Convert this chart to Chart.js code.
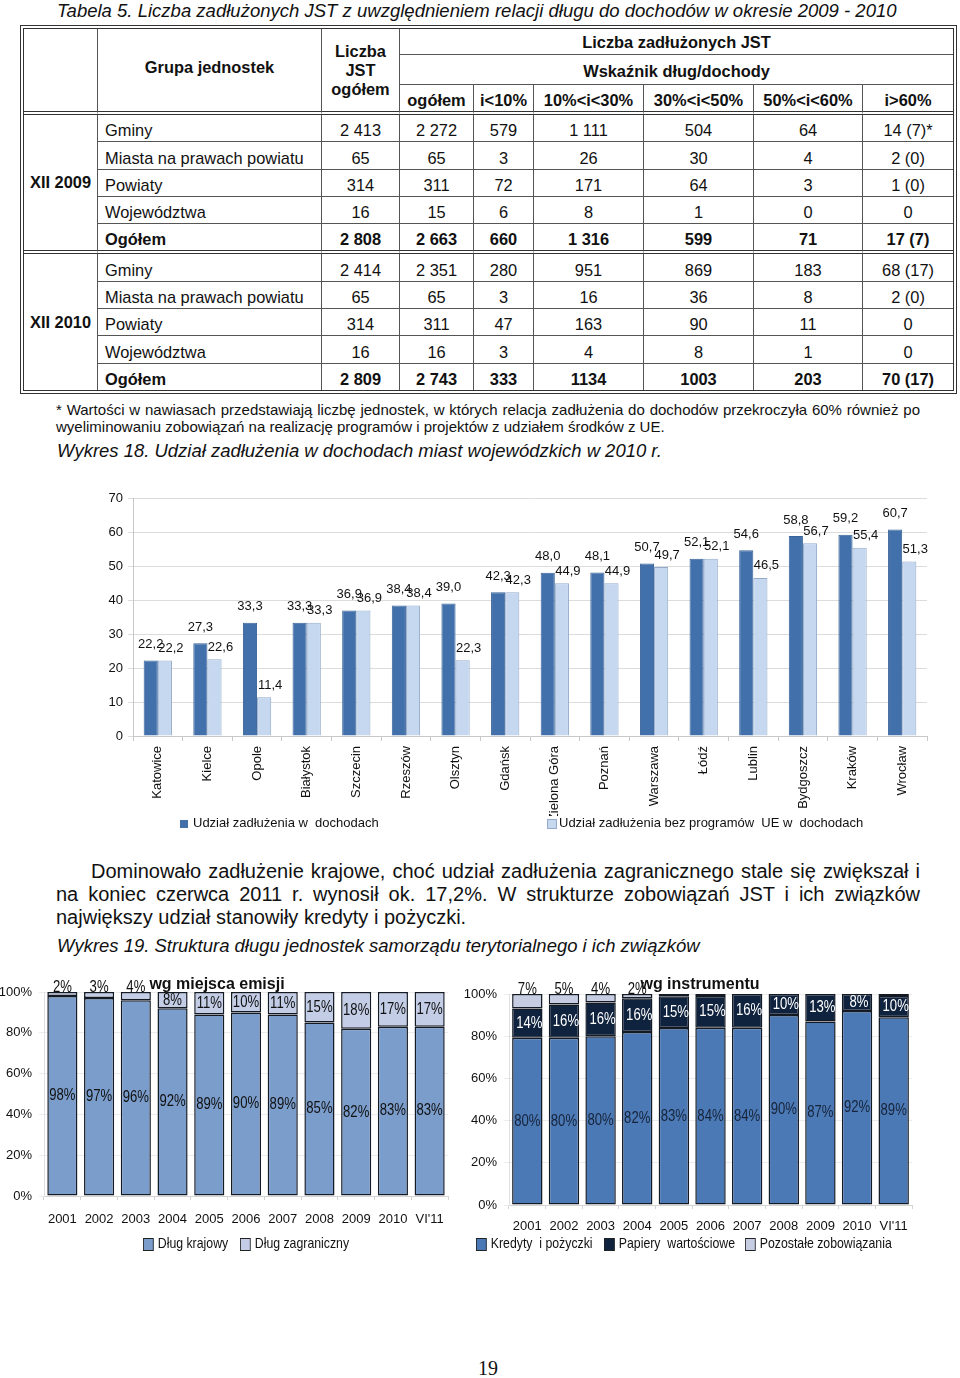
<!DOCTYPE html>
<html lang="pl">
<head>
<meta charset="utf-8">
<script src="https://cdn.jsdelivr.net/npm/chart.js@4.4.1/dist/chart.umd.min.js"></script>
<style>
html, body { margin: 0; padding: 0; background: #fff; }
#page { position: relative; width: 960px; height: 1378px; overflow: hidden; font-family: 'Liberation Sans', Arial, sans-serif; color: #111; }
/* no Arial Narrow here, so squeeze Liberation Sans a bit */
.nw { transform: scaleX(0.972); transform-origin: 0 0; }
.nx { transform: scaleX(0.82); transform-origin: 0 0; }
.abs { position: absolute; white-space: nowrap; }
.fill { text-align: justify; text-align-last: justify; }
.cap { font-style: italic; font-size: 19px; line-height: 22px; }
.foot { font-size: 15px; line-height: 17px; }
.para { font-size: 20px; line-height: 23px; }
#tab { position: absolute; left: 20px; top: 25px; width: 937px; table-layout: fixed; border-collapse: separate; border-spacing: 0; border: 4px double #333; font-size: 16.4px; }
#tab th, #tab td { border-right: 1px solid #555; border-bottom: 1px solid #555; padding: 0; text-align: center; white-space: nowrap; overflow: hidden; }
#tab th { font-weight: bold; }
#tab .last { border-right: none; }
#tab .dbl { border-bottom: 4px double #333; }
#tab .nob { border-bottom: none; }
#tab tbody td { height: 25.3px; vertical-align: bottom; padding-bottom: 1px; }
#tab td.grp { text-align: left; padding-left: 7px; }
#tab td.year { font-weight: bold; vertical-align: middle; padding: 0; }
#tab tr.sum td { font-weight: bold; }
.leg { position: absolute; white-space: nowrap; }
.leg i { display: inline-block; vertical-align: middle; margin-right: 5px; }
canvas { position: absolute; }
</style>
</head>
<body>
<div id="page">
  <div class="abs cap" style="left:0;top:0;width:978px;text-align:center;transform:scaleX(0.975);transform-origin:0 0;">Tabela 5. Liczba zadłużonych JST z uwzględnieniem relacji długu do dochodów w okresie 2009 - 2010</div>

  <table id="tab">
    <colgroup>
      <col style="width:74px"><col style="width:224px"><col style="width:78px"><col style="width:74px"><col style="width:60px">
      <col style="width:110px"><col style="width:110px"><col style="width:109px"><col style="width:90px">
    </colgroup>
    <thead>
      <tr style="height:26px">
        <th rowspan="3" class="dbl"></th>
        <th rowspan="3" class="dbl" style="padding-bottom:6px">Grupa jednostek</th>
        <th rowspan="3" class="dbl" style="line-height:19px">Liczba<br>JST<br>ogółem</th>
        <th colspan="6" class="last" style="padding-top:2px">Liczba zadłużonych JST</th>
      </tr>
      <tr style="height:30px"><th colspan="6" class="last" style="padding-top:4px">Wskaźnik dług/dochody</th></tr>
      <tr style="height:30px" id="hdr3"></tr>
    </thead>
    <tbody id="b2009"></tbody>
    <tbody id="b2010"></tbody>
  </table>

  <div class="abs foot fill" style="left:56px;top:401px;width:864px;">* Wartości w nawiasach przedstawiają liczbę jednostek, w których relacja zadłużenia do dochodów przekroczyła 60% również po</div>
  <div class="abs foot" style="left:56px;top:418px;">wyeliminowaniu zobowiązań na realizację programów i projektów z udziałem środków z UE.</div>
  <div class="abs cap nw" style="left:57px;top:440px;">Wykres 18. Udział zadłużenia w dochodach miast wojewódzkich w 2010 r.</div>

  <canvas id="c18" width="860" height="360" style="left:90px;top:480px;"></canvas>
  <div class="leg" style="left:180px;top:815px;font-size:13px;line-height:16px;"><i style="width:8px;height:8px;background:#4170ab;"></i>Udział zadłużenia w&nbsp; dochodach</div>
  <div class="leg" style="left:547px;top:815px;font-size:13px;line-height:16px;"><i style="width:8px;height:8px;background:#c6d8f0;border:1px solid #94aacb;margin-right:2px;"></i>Udział zadłużenia bez programów&nbsp; UE w&nbsp; dochodach</div>

  <div class="abs para fill" style="left:91px;top:860px;width:829px;">Dominowało zadłużenie krajowe, choć udział zadłużenia zagranicznego stale się zwiększał i</div>
  <div class="abs para fill" style="left:56px;top:883px;width:864px;">na koniec czerwca 2011 r. wynosił ok. 17,2%. W strukturze zobowiązań JST i ich związków</div>
  <div class="abs para" style="left:56px;top:906px;">największy udział stanowiły kredyty i pożyczki.</div>
  <div class="abs cap nw" style="left:57px;top:935px;">Wykres 19. Struktura długu jednostek samorządu terytorialnego i ich związków</div>

  <canvas id="c19a" width="460" height="262" style="left:0px;top:975px;"></canvas>
  <canvas id="c19b" width="500" height="265" style="left:460px;top:975px;"></canvas>
  <div class="abs" style="left:137px;top:975px;width:160px;text-align:center;font-weight:bold;font-size:16px;line-height:18px;">wg miejsca emisji</div>
  <div class="abs" style="left:620px;top:975px;width:160px;text-align:center;font-weight:bold;font-size:16px;line-height:18px;">wg instrumentu</div>

  <div class="leg nx" style="left:143px;top:1234px;font-size:15px;line-height:18px;"><i style="width:11px;height:11px;background:#7b9dcc;border:1px solid #222;"></i>Dług krajowy</div>
  <div class="leg nx" style="left:240px;top:1234px;font-size:15px;line-height:18px;"><i style="width:11px;height:11px;background:#c3cde6;border:1px solid #222;"></i>Dług zagraniczny</div>
  <div class="leg nx" style="left:476px;top:1234px;font-size:15px;line-height:18px;"><i style="width:11px;height:11px;background:#4b79b6;border:1px solid #222;"></i>Kredyty&nbsp; i pożyczki</div>
  <div class="leg nx" style="left:604px;top:1234px;font-size:15px;line-height:18px;"><i style="width:11px;height:11px;background:#10233e;border:1px solid #222;"></i>Papiery&nbsp; wartościowe</div>
  <div class="leg nx" style="left:745px;top:1234px;font-size:15px;line-height:18px;"><i style="width:11px;height:11px;background:#c6cde3;border:1px solid #222;"></i>Pozostałe zobowiązania</div>

  <div class="abs" style="left:468px;top:1356px;width:40px;text-align:center;font-family:'Liberation Serif','Times New Roman',serif;font-size:20px;line-height:24px;">19</div>
</div>

<script>
// ---- Tabela 5 ----
const tableCols = ['ogółem', 'i<10%', '10%<i<30%', '30%<i<50%', '50%<i<60%', 'i>60%'];
const unitGroups = ['Gminy', 'Miasta na prawach powiatu', 'Powiaty', 'Województwa', 'Ogółem'];
const total2009 = ['2 413', '65', '314', '16', '2 808'];
const debt2009 = [
    ['2 272', '579', '1 111', '504', '64', '14 (7)*'],
    ['65', '3', '26', '30', '4', '2 (0)'],
    ['311', '72', '171', '64', '3', '1 (0)'],
    ['15', '6', '8', '1', '0', '0'],
    ['2 663', '660', '1 316', '599', '71', '17 (7)']
];
const total2010 = ['2 414', '65', '314', '16', '2 809'];
const debt2010 = [
    ['2 351', '280', '951', '869', '183', '68 (17)'],
    ['65', '3', '16', '36', '8', '2 (0)'],
    ['311', '47', '163', '90', '11', '0'],
    ['16', '3', '4', '8', '1', '0'],
    ['2 743', '333', '1134', '1003', '203', '70 (17)']
];

// ---- Wykres 18 ----
const cities18 = ['Katowice', 'Kielce', 'Opole', 'Białystok', 'Szczecin', 'Rzeszów', 'Olsztyn', 'Gdańsk',
    'Zielona Góra', 'Poznań', 'Warszawa', 'Łódź', 'Lublin', 'Bydgoszcz', 'Kraków', 'Wrocław'];
const share18 = [22.2, 27.3, 33.3, 33.3, 36.9, 38.4, 39.0, 42.3, 48.0, 48.1, 50.7, 52.1, 54.6, 58.8, 59.2, 60.7];
const shareNoEU18 = [22.2, 22.6, 11.4, 33.3, 36.9, 38.4, 22.3, 42.3, 44.9, 44.9, 49.7, 52.1, 46.5, 56.7, 55.4, 51.3];
const yMax18 = 70, yStep18 = 10;

// ---- Wykres 19 ----
const years19 = ['2001', '2002', '2003', '2004', '2005', '2006', '2007', '2008', '2009', '2010', "VI'11"];
const domestic19 = [98, 97, 96, 92, 89, 90, 89, 85, 82, 83, 83];
const foreign19 = [2, 3, 4, 8, 11, 10, 11, 15, 18, 17, 17];
const loans19 = [80, 80, 80, 82, 83, 84, 84, 90, 87, 92, 89];
const securities19 = [14, 16, 16, 16, 15, 15, 16, 10, 13, 8, 10];
const otherLiab19 = [7, 5, 4, 2, 1, 1, 0, 0, 0, 0, 1];

// build table body
const hdr3 = document.getElementById('hdr3');
tableCols.forEach((c, i) => {
    const th = document.createElement('th');
    th.textContent = c;
    th.className = 'dbl' + (i === tableCols.length - 1 ? ' last' : '');
    th.style.verticalAlign = 'bottom';
    th.style.paddingBottom = '1px';
    hdr3.appendChild(th);
});

function fillBody(id, yearLabel, totals, rows, lastBlock) {
    const body = document.getElementById(id);
    unitGroups.forEach((g, r) => {
        const tr = document.createElement('tr');
        if (r === unitGroups.length - 1) tr.className = 'sum';
        const endCls = r === unitGroups.length - 1 ? (lastBlock ? ' nob' : ' dbl') : '';
        if (r === 0) {
            const y = document.createElement('td');
            y.rowSpan = unitGroups.length;
            y.className = 'year' + (lastBlock ? ' nob' : ' dbl');
            y.textContent = yearLabel;
            tr.appendChild(y);
        }
        const cells = [g, totals[r]].concat(rows[r]);
        cells.forEach((v, c) => {
            const td = document.createElement('td');
            td.textContent = v;
            let cls = endCls;
            if (c === 0) cls += ' grp';
            if (c === cells.length - 1) cls += ' last';
            td.className = cls.trim();
            tr.appendChild(td);
        });
        body.appendChild(tr);
    });
}
fillBody('b2009', 'XII 2009', total2009, debt2009, false);
fillBody('b2010', 'XII 2010', total2010, debt2010, true);

const SANS = "'Liberation Sans', Arial, sans-serif";
Chart.defaults.font.family = SANS;
Chart.defaults.color = '#111';

// labels over bars (chart 18)
const topLabels = {
    id: 'topLabels',
    afterDatasetsDraw(chart) {
        const ctx = chart.ctx;
        const dx = [0, 6], dy = [16, 12];
        ctx.save();
        ctx.font = '13px ' + SANS;
        ctx.fillStyle = '#111';
        ctx.textAlign = 'center';
        ctx.textBaseline = 'middle';
        chart.data.datasets.forEach((ds, di) => {
            chart.getDatasetMeta(di).data.forEach((bar, i) => {
                const txt = ds.data[i].toFixed(1).replace('.', ',');
                ctx.fillText(txt, bar.x + dx[di], bar.y - dy[di]);
            });
        });
        ctx.restore();
    }
};

// labels inside stacked segments (chart 19), squeezed like a narrow font
const segLabels = {
    id: 'segLabels',
    afterDatasetsDraw(chart) {
        const ctx = chart.ctx;
        chart.data.datasets.forEach((ds, di) => {
            chart.getDatasetMeta(di).data.forEach((bar, i) => {
                const v = ds.raw[i];
                if (v < 2) return;
                const h = bar.base - bar.y;
                const y = h < 16 ? bar.y - 4 : bar.y + h / 2;
                ctx.save();
                ctx.translate(bar.x + (ds.labelDx || 0), y);
                ctx.scale(0.82, 1);
                ctx.font = '16px ' + SANS;
                ctx.textAlign = 'center';
                ctx.textBaseline = 'middle';
                ctx.fillStyle = h < 16 ? '#111' : ds.labelColor;
                ctx.fillText(v + '%', 0, 0);
                ctx.restore();
            });
        });
    }
};

new Chart(document.getElementById('c18'), {
    type: 'bar',
    data: {
        labels: cities18,
        datasets: [
            { label: 'Udział zadłużenia w dochodach', data: share18, backgroundColor: '#4170ab', borderColor: '#3a6399', borderWidth: 1, categoryPercentage: 0.57, barPercentage: 1 },
            { label: 'Udział zadłużenia bez programów UE w dochodach', data: shareNoEU18, backgroundColor: '#c6d8f0', borderColor: '#94aacb', borderWidth: 1, categoryPercentage: 0.57, barPercentage: 1 }
        ]
    },
    options: {
        responsive: false,
        animation: false,
        layout: { padding: { left: 0, right: 23, top: 18, bottom: 24 } },
        plugins: { legend: { display: false }, tooltip: { enabled: false } },
        scales: {
            x: {
                grid: { drawOnChartArea: false, tickLength: 5, color: '#c8c8c8', offset: true },
                border: { color: '#c8c8c8' },
                ticks: { minRotation: 90, maxRotation: 90, autoSkip: false, font: { size: 13 }, padding: 5 },
                afterFit(s) { s.height = 80; }
            },
            y: {
                min: 0, max: yMax18,
                ticks: { stepSize: yStep18, font: { size: 13 }, padding: 5 },
                grid: { color: '#dcdcdc', tickLength: 5 },
                border: { color: '#c8c8c8' },
                afterFit(s) { s.width = 43; }
            }
        }
    },
    plugins: [topLabels]
});

function pctStack(series) {
    // normalise rounded shares so every column fills 100%
    return series.map(s => s.map((v, i) => v / series.reduce((a, b) => a + b[i], 0) * 100));
}

function stackChart(id, sets, pad, yWidth, xHeight, barPct, xPad) {
    const norm = pctStack(sets.map(s => s.data));
    return new Chart(document.getElementById(id), {
        type: 'bar',
        data: {
            labels: years19,
            datasets: sets.map((s, k) => ({
                label: s.label, data: norm[k], raw: s.data, labelColor: s.labelColor, labelDx: s.labelDx,
                backgroundColor: s.color, borderColor: '#141a24', borderWidth: 1.5, borderSkipped: false,
                categoryPercentage: 1, barPercentage: barPct
            }))
        },
        options: {
            responsive: false,
            animation: false,
            layout: { padding: pad },
            plugins: { legend: { display: false }, tooltip: { enabled: false } },
            scales: {
                x: {
                    stacked: true,
                    grid: { drawOnChartArea: false, tickLength: 4, color: '#d4d4d4', offset: true },
                    border: { color: '#d4d4d4' },
                    ticks: { font: { size: 13 }, padding: xPad, maxRotation: 0, autoSkip: false },
                    afterFit(s) { s.height = xHeight; }
                },
                y: {
                    stacked: true, min: 0, max: 100,
                    ticks: { stepSize: 20, font: { size: 13 }, padding: 7, callback: v => v + '%' },
                    grid: { color: '#ececec', tickLength: 5 },
                    border: { color: '#e0e0e0' },
                    afterFit(s) { s.width = yWidth; }
                }
            }
        },
        plugins: [segLabels]
    });
}

stackChart('c19a', [
    { label: 'Dług krajowy', data: domestic19, color: '#7b9dcc', labelColor: '#111' },
    { label: 'Dług zagraniczny', data: foreign19, color: '#c3cde6', labelColor: '#111' }
], { left: 0, right: 12, top: 17, bottom: 0 }, 44, 262 - 221, 0.82, 12);

stackChart('c19b', [
    { label: 'Kredyty i pożyczki', data: loans19, color: '#4b79b6', labelColor: '#17243a' },
    { label: 'Papiery wartościowe', data: securities19, color: '#10233e', labelColor: '#fff', labelDx: 2 },
    { label: 'Pozostałe zobowiązania', data: otherLiab19, color: '#c6cde3', labelColor: '#111' }
], { left: 0, right: 48, top: 19, bottom: 0 }, 49, 265 - 230, 0.83, 10);
</script>
</body>
</html>
